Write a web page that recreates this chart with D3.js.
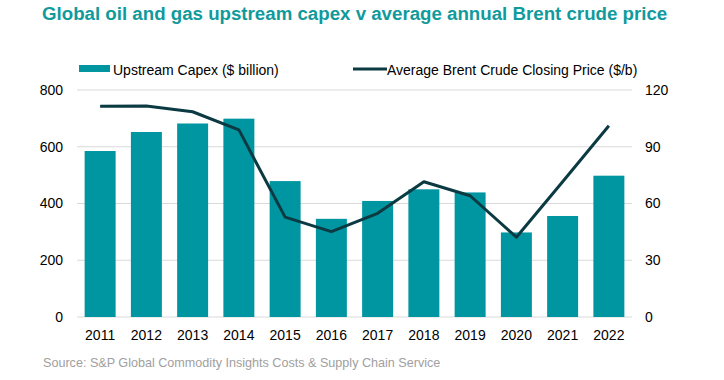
<!DOCTYPE html>
<html>
<head>
<meta charset="utf-8">
<script src="https://cdn.jsdelivr.net/npm/d3@7"></script>
<style>
  body { margin: 0; background: #fff; }
  text { font-family: "Liberation Sans", Arial, sans-serif; }
</style>
</head>
<body>
<svg id="chart" width="724" height="380"></svg>
<script>
const years = ['2011', '2012', '2013', '2014', '2015', '2016', '2017', '2018', '2019', '2020', '2021', '2022'];
const capex = [585, 652, 682, 699, 479, 346, 409, 450, 439, 298, 356, 498];
const brent = [111.4, 111.6, 108.5, 98.9, 52.8, 45.1, 54.8, 71.5, 64.1, 42.2, 71.5, 101.1];
const leftTicks = [0, 200, 400, 600, 800];
const rightTicks = [0, 30, 60, 90, 120];

const svg = d3.select('#chart');
const margin = { top: 90, left: 77, right: 92, bottom: 63 };
const width = 724, height = 380;

const x = d3.scaleBand()
  .domain(years)
  .range([margin.left, width - margin.right])
  .paddingInner(0.33)
  .paddingOuter(0.165);

const yL = d3.scaleLinear().domain([0, 800]).range([height - margin.bottom, margin.top]);
const yR = d3.scaleLinear().domain([0, 120]).range([height - margin.bottom, margin.top]);

// title
svg.append('text')
  .attr('x', 42).attr('y', 20)
  .attr('font-size', 18.7).attr('font-weight', 'bold')
  .attr('fill', '#109a9c')
  .text('Global oil and gas upstream capex v average annual Brent crude price');

// gridlines
svg.append('g')
  .selectAll('line')
  .data(leftTicks)
  .join('line')
  .attr('x1', margin.left).attr('x2', width - margin.right)
  .attr('y1', d => yL(d)).attr('y2', d => yL(d))
  .attr('stroke', '#d9d9d9').attr('stroke-width', 1);

// bars
svg.append('g')
  .selectAll('rect')
  .data(capex)
  .join('rect')
  .attr('x', (d, i) => x(years[i]))
  .attr('width', x.bandwidth())
  .attr('y', d => yL(d))
  .attr('height', d => yL(0) - yL(d))
  .attr('fill', '#0096a1');

// line
const line = d3.line()
  .x((d, i) => x(years[i]) + x.bandwidth() / 2)
  .y(d => yR(d));

svg.append('path')
  .datum(brent)
  .attr('d', line)
  .attr('fill', 'none')
  .attr('stroke', '#0b3a42')
  .attr('stroke-width', 3)
  .attr('stroke-linejoin', 'round');

// axes
const leftAxis = svg.append('g')
  .attr('transform', `translate(${margin.left},0)`)
  .call(d3.axisLeft(yL).tickValues(leftTicks).tickSize(0).tickPadding(14));

const rightAxis = svg.append('g')
  .attr('transform', `translate(${width - margin.right},0)`)
  .call(d3.axisRight(yR).tickValues(rightTicks).tickSize(0).tickPadding(13));

const bottomAxis = svg.append('g')
  .attr('transform', `translate(0,${height - margin.bottom})`)
  .call(d3.axisBottom(x).tickSize(0).tickPadding(13));

[leftAxis, rightAxis, bottomAxis].forEach(a => {
  a.select('.domain').remove();
  a.selectAll('text')
    .attr('font-size', 14)
    .attr('fill', '#000')
    .style('font-family', '"Liberation Sans", Arial, sans-serif');
});

// legend
const legend = svg.append('g');
legend.append('rect')
  .attr('x', 79).attr('y', 65).attr('width', 31).attr('height', 7)
  .attr('fill', '#0096a1');
legend.append('text')
  .attr('x', 113).attr('y', 75)
  .attr('font-size', 14).attr('fill', '#000')
  .text('Upstream Capex ($ billion)');
legend.append('line')
  .attr('x1', 353).attr('x2', 387).attr('y1', 69).attr('y2', 69)
  .attr('stroke', '#0b3a42').attr('stroke-width', 3);
legend.append('text')
  .attr('x', 387).attr('y', 75)
  .attr('font-size', 14).attr('fill', '#000')
  .text('Average Brent Crude Closing Price ($/b)');

// source
svg.append('text')
  .attr('x', 43).attr('y', 367)
  .attr('font-size', 12.6).attr('fill', '#a0a0a0')
  .text('Source: S&P Global Commodity Insights Costs & Supply Chain Service');
</script>
</body>
</html>
